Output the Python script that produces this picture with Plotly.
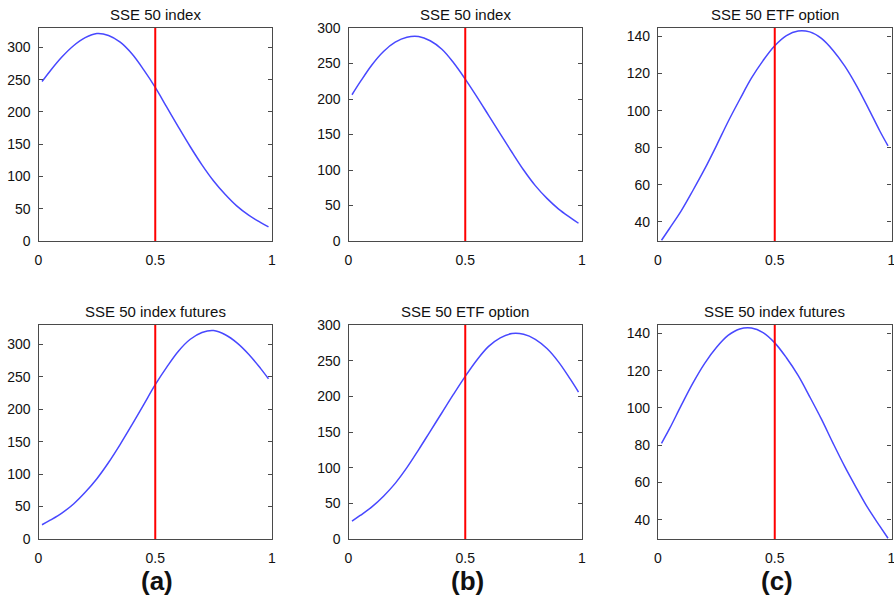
import plotly.graph_objects as go

# ---- data ----
x_vals = [0.015, 0.05, 0.1, 0.15, 0.2, 0.25, 0.3, 0.35, 0.4, 0.45, 0.5,
          0.55, 0.6, 0.65, 0.7, 0.75, 0.8, 0.85, 0.9, 0.95, 0.985]

a_top = [247, 263.5, 285, 302.5, 315, 321.5, 318.5, 308, 290, 265.5, 238,
         207, 176, 146, 118, 93, 72, 54, 40, 29, 22]
a_bottom = [22, 29, 40, 54, 72, 93, 118, 146, 176, 207, 238,
            265.5, 290, 308, 318.5, 321.5, 315, 302.5, 285, 263.5, 247]

b_top = [206, 224, 248, 267, 280, 287, 288, 282, 270, 251, 228,
         203, 177, 151, 125, 100, 78, 60, 45, 33, 25]
b_bottom = [25, 33, 45, 60, 78, 100, 125, 151, 177, 203, 228,
            251, 270, 282, 288, 287, 280, 267, 248, 224, 206]

c_top = [30, 36.5, 46, 57, 68.5, 81, 94, 106, 117.5, 127, 135,
         140.5, 143, 142.5, 139, 132.5, 124, 113.5, 101.5, 89, 81]
c_bottom = [81, 89, 101.5, 113.5, 124, 132.5, 139, 142.5, 143, 140.5, 135,
            127, 117.5, 106, 94, 81, 68.5, 57, 46, 36.5, 30]

threshold = 0.5

titles = ["SSE 50 index", "SSE 50 index", "SSE 50 ETF option",
          "SSE 50 index futures", "SSE 50 ETF option", "SSE 50 index futures"]
panel_labels = ["(a)", "(b)", "(c)"]

x_ticks = [0, 0.5, 1]
x_ticklabels = ["0", "0.5", "1"]
yticks_ab = [0, 50, 100, 150, 200, 250, 300]
yticks_c = [40, 60, 80, 100, 120, 140]

# ---- layout ----
W, H = 894, 599
col_px = [(38.5, 272.0), (348.5, 582.0), (658.0, 891.5)]
row_px = [(28.0, 241.0), (325.0, 539.0)]
yranges = [[0, 330], [0, 300], [29.6, 144.6]]
ytickset = [yticks_ab, yticks_ab, yticks_c]

series = [[a_top, b_top, c_top], [a_bottom, b_bottom, c_bottom]]

fig = go.Figure()
FONT = "Liberation Sans, Arial, sans-serif"
BOX = "#4a4a4a"

layout = dict(width=W, height=H, margin=dict(l=0, r=0, t=0, b=0, pad=0),
              autosize=False,
              paper_bgcolor="white", plot_bgcolor="white", showlegend=False,
              font=dict(family=FONT, size=14, color="#111"))
annotations = []
shapes = []

idx = 0
for r in range(2):
    for c in range(3):
        idx += 1
        xa = "xaxis" if idx == 1 else f"xaxis{idx}"
        ya = "yaxis" if idx == 1 else f"yaxis{idx}"
        xr = "x" if idx == 1 else f"x{idx}"
        yr = "y" if idx == 1 else f"y{idx}"
        x0, x1 = col_px[c]
        y0, y1 = row_px[r]
        layout[xa] = dict(domain=[x0 / W, x1 / W], anchor=yr, range=[0, 1],
                          tickvals=x_ticks, ticktext=x_ticklabels,
                          ticks="inside", ticklen=4, tickcolor=BOX,
                          showline=True, linecolor=BOX, linewidth=1.2,
                          mirror="allticks", showgrid=False, zeroline=False,
                          automargin=False, ticklabelstandoff=6,
                          ticklabeloverflow="allow",
                          tickfont=dict(family=FONT, size=14, color="#111"))
        layout[ya] = dict(domain=[1 - y1 / H, 1 - y0 / H], anchor=xr,
                          range=yranges[c], tickvals=ytickset[c],
                          ticks="inside", ticklen=4, tickcolor=BOX,
                          showline=True, linecolor=BOX, linewidth=1.2,
                          mirror="allticks", showgrid=False, zeroline=False,
                          automargin=False, ticklabelstandoff=4,
                          tickfont=dict(family=FONT, size=14, color="#111"))
        fig.add_trace(go.Scatter(x=x_vals, y=series[r][c], mode="lines",
                                 line=dict(color="rgb(72,72,255)", width=1.5,
                                           shape="spline", smoothing=1.0),
                                 xaxis=xr, yaxis=yr, hoverinfo="skip"))
        shapes.append(dict(type="line", xref=xr, yref=f"{yr} domain",
                           x0=threshold, x1=threshold, y0=0, y1=1,
                           line=dict(color="red", width=2)))
        annotations.append(dict(text=titles[idx - 1], xref="paper", yref="paper",
                                x=(x0 + x1) / 2 / W, y=1 - (y0 - 14) / H,
                                xanchor="center", yanchor="middle",
                                showarrow=False,
                                font=dict(family=FONT, size=15, color="#111")))

for c in range(3):
    x0, x1 = col_px[c]
    annotations.append(dict(text=f"<b>{panel_labels[c]}</b>", xref="paper", yref="paper",
                            x=(x0 + x1) / 2 / W + 2 / W, y=1 - 581 / H,
                            xanchor="center", yanchor="middle", showarrow=False,
                            font=dict(family=FONT, size=26, color="#111")))

layout["annotations"] = annotations
layout["shapes"] = shapes
fig.update_layout(**layout)
fig.write_html("out.html", config={"displayModeBar": False},
               post_script="document.body.style.margin='0';"
                           "document.body.style.padding='0';"
                           "document.body.style.overflow='hidden';")
